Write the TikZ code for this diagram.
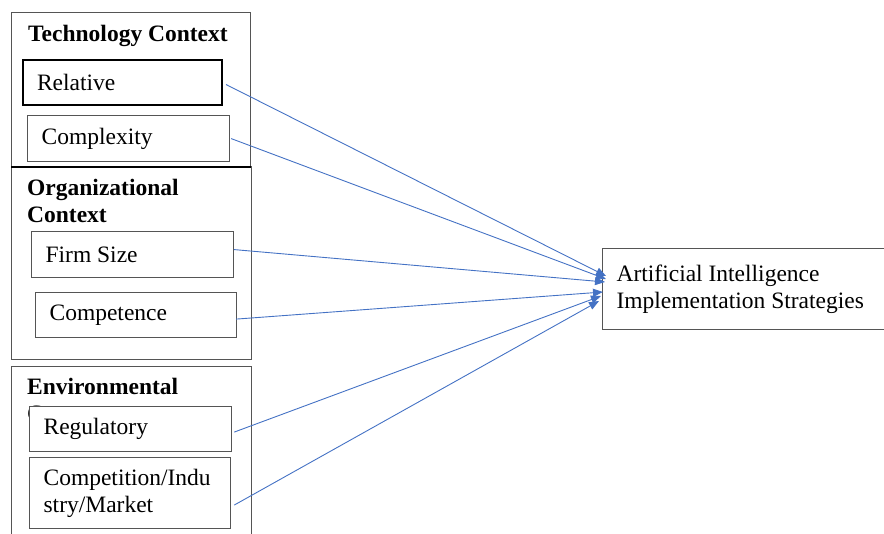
\documentclass[tikz,border=0pt]{standalone}
\usepackage{fontspec}
\setmainfont{Liberation Serif}
\usetikzlibrary{arrows.meta}
\definecolor{linkblue}{HTML}{4472C4}
\definecolor{framegray}{HTML}{555555}
\tikzset{
  factorbox/.style={draw=framegray, line width=1.2pt, fill=white, anchor=north west,
    align=flush left, inner xsep=14pt, inner ysep=0pt,
    font=\fontsize{23.5}{27}\selectfont},
  grouptitle/.style={anchor=base west, inner sep=0pt, align=flush left,
    font=\fontsize{23.5}{27}\selectfont\bfseries},
  link/.style={draw=linkblue, line width=0.9pt, -{Triangle[length=10pt,width=8pt]}}
}
\begin{document}
\begin{tikzpicture}[x=1pt,y=-1pt]
                    \useasboundingbox (0,0) rectangle (884,534);

                    % group frames
                    \draw[framegray, line width=1pt] (11,13) rectangle (250,167);
                    \draw[framegray, line width=1pt] (11,167) rectangle (251,360);
                    \draw[framegray, line width=1pt] (11,367) rectangle (251,545);
                    \draw[black, line width=1.8pt] (11,167) -- (251,167);

                    % titles (base west = last baseline)
                    \node[grouptitle] (techtitle) at (28,42) {Technology Context};
                    \node[grouptitle] (orgtitle) at (27,223) {Organizational\\Context};
                    \node[grouptitle] (envtitle) at (27,422) {Environmental\\Context};

                    % factors
                    \node[factorbox, draw=black, line width=2pt, text width=171pt, minimum height=45pt] (relative) at (22,59) {Relative};
                    \node[factorbox, text width=174pt, minimum height=46pt] (complexity) at (27,115) {Complexity};
                    \node[factorbox, text width=174pt, minimum height=46pt] (firmsize) at (31,231) {Firm Size};
                    \node[factorbox, text width=173pt, minimum height=45pt] (competence) at (35,292) {Competence};
                    \node[factorbox, text width=174pt, minimum height=45pt] (regulatory) at (29,406) {Regulatory};
                    \node[factorbox, text width=173pt, minimum height=71pt] (competition) at (29,457) {Competition/Indu\\stry/Market};

                    % outcome
                    \node[factorbox, text width=254pt, minimum height=81pt] (aistrat) at (602,248) {Artificial Intelligence\\Implementation Strategies};

                    \coordinate (in1) at (606,276);
                    \coordinate (in2) at (606,279);
                    \coordinate (in3) at (605,282);
                    \coordinate (in4) at (603,292);
                    \coordinate (in5) at (601,296);
                    \coordinate (in6) at (599,301);

                    \draw[link] ([xshift=3pt,yshift=-2pt]relative.east) -- (in1);
                    \draw[link] ([xshift=1pt]complexity.east) -- (in2);
                    \draw[link] ([yshift=5pt]firmsize.east) -- (in3);
                    \draw[link] ([xshift=-1pt,yshift=-4pt]competence.east) -- (in4);
                    \draw[link] ([xshift=2pt,yshift=-3pt]regulatory.east) -- (in5);
                    \draw[link] ([xshift=3pt,yshift=-12pt]competition.east) -- (in6);

\end{tikzpicture}
\end{document}
